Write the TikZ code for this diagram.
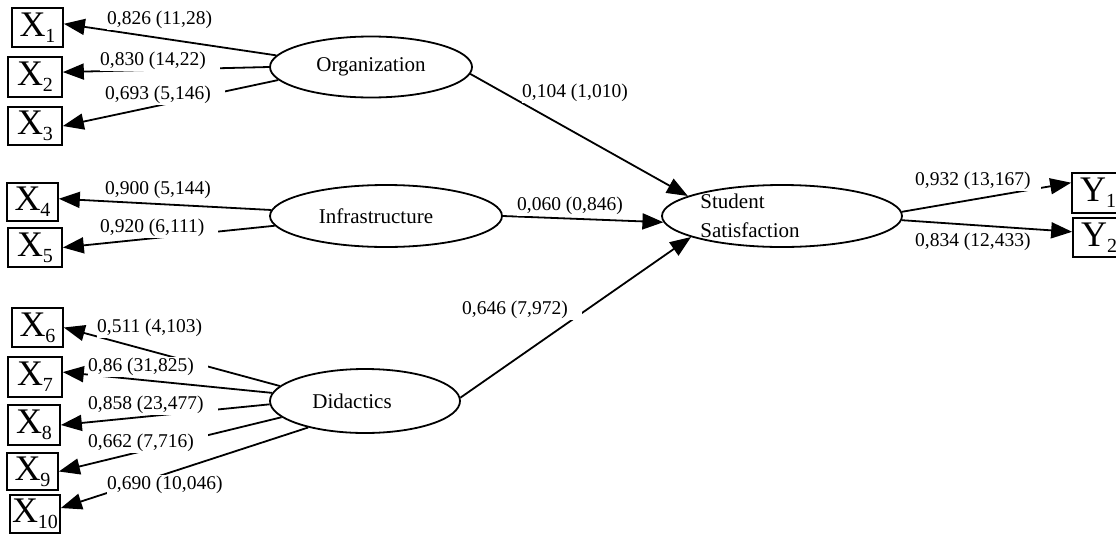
\documentclass[tikz,border=0pt]{standalone}
\usepackage{fontspec}
\setmainfont{Liberation Serif}
\usetikzlibrary{arrows.meta,shapes.geometric}
\newcommand\ind[2]{#1\raisebox{-6pt}{\fontsize{20}{20}\selectfont #2}}
\newcommand\lab[1]{#1\kern14pt}
\begin{document}
\begin{tikzpicture}[x=1pt,y=-1pt,
  ind/.style={draw,line width=1.7pt,inner sep=0pt,minimum width=52pt,minimum height=39pt,font=\fontsize{36}{36}\selectfont},
  lat/.style={draw,ellipse,line width=1.8pt,inner sep=0pt,font=\fontsize{21}{30}\selectfont},
  lbl/.style={fill=white,anchor=west,inner xsep=0pt,inner ysep=1.5pt,font=\fontsize{19.5}{20}\selectfont},
  arr/.style={line width=1.8pt,-{Triangle[length=21pt,width=16pt]}},
]
\useasboundingbox (0,0) rectangle (1116,533);

% indicator boxes
\node[ind,minimum width=51pt] (x1) at (37.5,27.5) {\ind{X}{1}};
\node[ind,minimum width=54pt,minimum height=40pt] (x2) at (35,77) {\ind{X}{2}};
\node[ind,minimum width=54pt,minimum height=38pt] (x3) at (35,126) {\ind{X}{3}};
\node[ind,minimum width=51pt,minimum height=38pt] (x4) at (32.5,202) {\ind{X}{4}};
\node[ind,minimum width=54pt,minimum height=39pt] (x5) at (35,247.5) {\ind{X}{5}};
\node[ind,minimum width=51pt,minimum height=39pt] (x6) at (37.5,327.5) {\ind{X}{6}};
\node[ind,minimum width=54pt,minimum height=40pt] (x7) at (35,377) {\ind{X}{7}};
\node[ind,minimum width=52pt,minimum height=40pt] (x8) at (34,425) {\ind{X}{8}};
\node[ind,minimum width=51pt,minimum height=37pt] (x9) at (32.5,471.5) {\ind{X}{9}};
\node[ind,minimum width=50pt,minimum height=38pt] (x10) at (35,514) {\ind{X}{10}};
\node[ind,minimum width=52pt,minimum height=40pt] (y1) at (1098,193) {\ind{Y}{1}};
\node[ind,minimum width=52pt,minimum height=39pt] (y2) at (1099,237.5) {\ind{Y}{2}};

% latent variables
\node[lat,minimum width=202pt,minimum height=61pt] (org) at (371,67) {Organization};
\node[lat,minimum width=232pt,minimum height=62pt] (inf) at (386,216) {Infrastructure\hspace*{20pt}};
\node[lat,minimum width=190pt,minimum height=64pt] (did) at (365,401) {Didactics\hspace*{26pt}};
\node[lat,minimum width=240pt,minimum height=62pt] (ss) at (782,216)
  {\raisebox{-6pt}[0pt][0pt]{\begin{tabular}[c]{@{}l@{}}Student\\[-1pt]Satisfaction\end{tabular}}\hspace*{64pt}};

% connectors
\draw[arr] (org.173) -- (x1.8);
\draw[arr] (org.180) -- (x2.10);
\draw[arr] (org.188) -- (x3.east);
\draw[arr] (inf.177.5) -- (x4.7);
\draw[arr] (inf.185.8) -- (x5.east);
\draw[arr] (did.170.7) -- (x6.east);
\draw[arr] (did.175.7) -- (x7.10);
\draw[arr] (did.182.5) -- (x8.east);
\draw[arr] (did.191) -- (x9.east);
\draw[arr] (did.205) -- (x10.13);
\draw[arr] (org.-4) -- (ss.168.6);
\draw[arr] (inf.east) -- (ss.183);
\draw[arr] (did.2) -- (ss.193);
\draw[arr] (ss.2) -- (y1.159);
\draw[arr] (ss.-2) -- (y2.168);

% labels
\node[lbl] (l1) at (107,20) {\lab{0,826 (11,28)}};
\node[lbl] (l2) at (100,61) {\lab{0,830 (14,22)}};
\node[lbl] (l3) at (105,95) {\lab{0,693 (5,146)}};
\node[lbl] (l4) at (105,190) {\lab{0,900 (5,144)}};
\node[lbl] (l5) at (100,228) {\lab{0,920 (6,111)}};
\node[lbl] (l6) at (97,328) {\lab{0,511 (4,103)}};
\node[lbl] (l7) at (88,367) {\lab{0,86 (31,825)}};
\node[lbl] (l8) at (88,405) {\lab{0,858 (23,477)}};
\node[lbl] (l9) at (88,443) {\lab{0,662 (7,716)}};
\node[lbl] (l10) at (107,485) {\lab{0,690 (10,046)}};
\node[lbl] (l11) at (522,93) {\lab{0,104 (1,010)}};
\node[lbl] (l12) at (517,206) {\lab{0,060 (0,846)}};
\node[lbl] (l13) at (462,310) {\lab{0,646 (7,972)}};
\node[lbl] (l14) at (915,181) {0,932 (13,167)\kern10pt};
\node[lbl] (l15) at (915,242) {\lab{0,834 (12,433)}};
\end{tikzpicture}
\end{document}
